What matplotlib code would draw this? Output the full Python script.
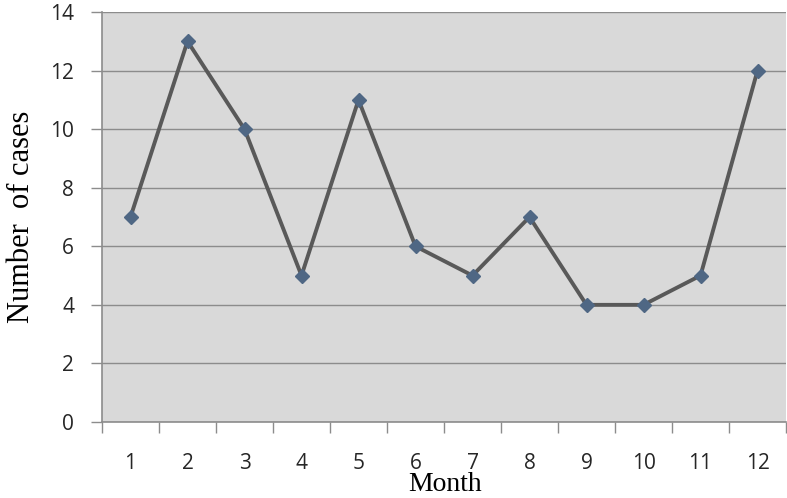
import numpy as np
import matplotlib
matplotlib.use("Agg")
import matplotlib.pyplot as plt

months = ["1", "2", "3", "4", "5", "6", "7", "8", "9", "10", "11", "12"]
cases = [7, 13, 10, 5, 11, 6, 5, 7, 4, 4, 5, 12]
y_ticks = [0, 2, 4, 6, 8, 10, 12, 14]

fig = plt.figure(figsize=(7.87, 4.98), dpi=100)
ax = fig.add_axes([102 / 787, 1 - 422 / 498, 684 / 787, 410 / 498])
ax.set_facecolor("#d9d9d9")

x = np.arange(len(months)) + 0.5
ax.plot(x, cases, color="#595959", lw=2.8, zorder=3)
ax.plot(x, cases, ls="none", marker="D", ms=7, color="#4f6784", zorder=4)

ax.set_xlim(0, len(months))
ax.set_ylim(0, 14)
ax.set_yticks(y_ticks)
ax.set_yticklabels([str(v) for v in y_ticks], fontsize=15, family="Open Sans", color="#262626")
ax.set_xticks(np.arange(len(months) + 1))
ax.set_xticklabels([])
ax.set_xticks(x, minor=True)
ax.set_xticklabels(months, minor=True, fontsize=15, family="Open Sans", color="#262626")
ax.tick_params(axis="x", which="minor", length=0, pad=22)
ax.tick_params(axis="x", which="major", length=8, color="#8c8c8c", width=1)
ax.tick_params(axis="y", length=8, color="#8c8c8c", width=1, pad=12)

ax.grid(axis="y", color="#8c8c8c", lw=1)
ax.set_axisbelow(True)
for s in ["top", "right"]:
    ax.spines[s].set_visible(False)
for s in ["left", "bottom"]:
    ax.spines[s].set_color("#8c8c8c")
    ax.spines[s].set_linewidth(1.2)

ax.set_ylabel("Number  of cases", fontsize=22, family="Liberation Serif", labelpad=10)
fig.text(445 / 787, 1 / 498, "Month", fontsize=20, family="Liberation Serif",
         ha="center", va="bottom")

fig.savefig("out.png", dpi=100)
